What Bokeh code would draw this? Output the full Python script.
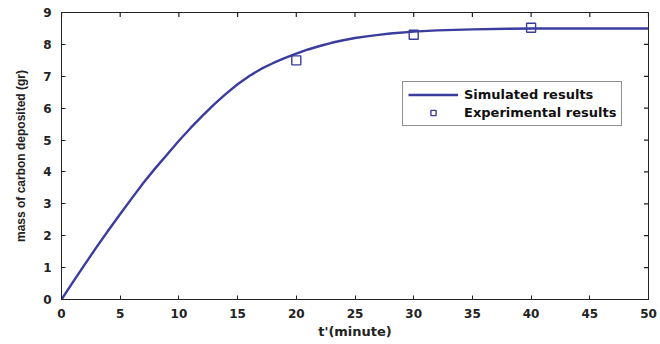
import math
from bokeh.plotting import figure
from bokeh.models import Legend, LegendItem, FixedTicker, Range1d
from bokeh.embed import file_html
from bokeh.resources import INLINE

# Simulated curve (t in minutes, mass in gr)
t_sim = [0, 1, 2, 3, 4, 5, 6, 7, 8, 9, 10, 11, 12, 13, 14, 15, 16, 17, 18, 19,
         20, 21, 22, 23, 24, 25, 26, 27, 28, 30, 32, 35, 38, 40, 45, 50]
m_sim = [0, 0.56, 1.11, 1.65, 2.17, 2.68, 3.18, 3.67, 4.12, 4.55, 4.98, 5.38, 5.76,
         6.12, 6.45, 6.75, 7.01, 7.23, 7.41, 7.57, 7.71, 7.84, 7.95, 8.05, 8.13,
         8.20, 8.25, 8.30, 8.34, 8.40, 8.44, 8.47, 8.49, 8.5, 8.5, 8.5]

# Experimental points
t_exp = [20, 30, 40]
m_exp = [7.5, 8.3, 8.52]

x_ticks = [0, 5, 10, 15, 20, 25, 30, 35, 40, 45, 50]
y_ticks = [0, 1, 2, 3, 4, 5, 6, 7, 8, 9]

BLUE = "#3b3c9e"
INK = "#222222"
TICK_FONT = "DejaVu Sans"
YLAB_FONT = "Liberation Sans"

p = figure(width=660, height=344, output_backend="svg", toolbar_location=None,
           x_range=Range1d(0, 50), y_range=Range1d(0, 9),
           min_border_left=61, min_border_right=12, min_border_top=12, min_border_bottom=45)
p.background_fill_color = "white"
p.border_fill_color = "white"
p.outline_line_color = INK
p.outline_line_width = 1
p.xgrid.visible = False
p.ygrid.visible = False

line = p.line(t_sim, m_sim, line_color=BLUE, line_width=2.4, line_join="round")
sq = p.scatter(t_exp, m_exp, marker="square", size=9, fill_color=None,
               line_color=BLUE, line_width=1.4)

# inward tick marks on the top and right edges of the box (clipped to the frame)
x_max = p.x_range.end
y_max = p.y_range.end
p.scatter(x_ticks, [y_max] * len(x_ticks), marker="dash", size=9, angle=math.pi / 2,
          line_color=INK, line_width=1.2)
p.scatter([x_max] * len(y_ticks), y_ticks, marker="dash", size=9,
          line_color=INK, line_width=1.2)

for ax in (p.xaxis[0], p.yaxis[0]):
    ax.major_label_text_font = TICK_FONT
    ax.major_label_text_font_style = "bold"
    ax.major_label_text_font_size = "12px"
    ax.major_label_text_color = INK
    ax.axis_label_text_font_style = "bold"
    ax.axis_label_text_color = INK
    ax.major_tick_in = 4
    ax.major_tick_out = 0
    ax.minor_tick_in = 0
    ax.minor_tick_out = 0
    ax.axis_line_color = INK
    ax.major_tick_line_color = INK

p.xaxis[0].ticker = FixedTicker(ticks=x_ticks)
p.yaxis[0].ticker = FixedTicker(ticks=y_ticks)
p.xaxis[0].axis_label = "t'(minute)"
p.xaxis[0].axis_label_text_font = TICK_FONT
p.xaxis[0].axis_label_text_font_size = "13px"
p.yaxis[0].axis_label = "mass of carbon deposited (gr)"
p.yaxis[0].axis_label_text_font = YLAB_FONT
p.yaxis[0].axis_label_text_font_size = "12px"
p.xaxis[0].major_label_standoff = 9
p.xaxis[0].axis_label_standoff = 3
p.yaxis[0].major_label_standoff = 10
p.yaxis[0].axis_label_standoff = 12

legend = Legend(items=[LegendItem(label="Simulated results", renderers=[line]),
                       LegendItem(label="Experimental results", renderers=[sq])],
                location=(341, 173), glyph_width=50, glyph_height=13, label_height=13,
                padding=5, spacing=3, label_standoff=6, margin=0,
                label_text_font=TICK_FONT, label_text_font_style="bold",
                label_text_font_size="13px", label_text_color="#111111",
                border_line_color=INK, border_line_width=1,
                background_fill_color="white", background_fill_alpha=1)
p.add_layout(legend, "center")

open("out.html", "w").write(file_html(p, INLINE))
